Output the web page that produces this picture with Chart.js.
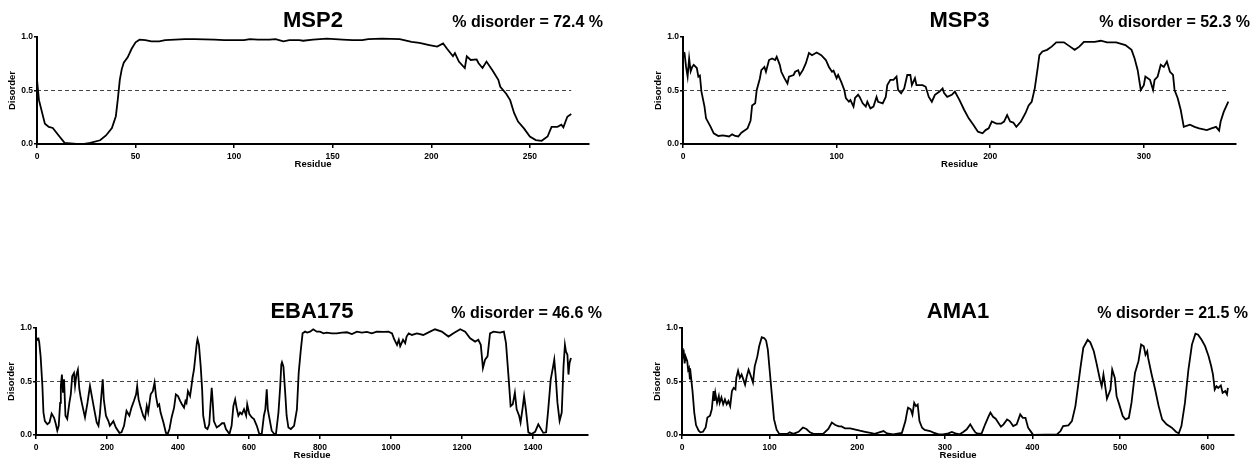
<!DOCTYPE html>
<html>
<head>
<meta charset="utf-8">
<script src="https://cdn.jsdelivr.net/npm/chart.js@4.4.1/dist/chart.umd.min.js"></script>
<style>
  body { margin: 0; background: #fff; width: 1251px; height: 461px; position: relative; overflow: hidden; }
  .panel { position: absolute; }
</style>
</head>
<body>
<div class="panel" style="left:0;top:0;width:625px;height:180px"><canvas id="msp2Chart"></canvas></div>
<div class="panel" style="left:625px;top:0;width:626px;height:180px"><canvas id="msp3Chart"></canvas></div>
<div class="panel" style="left:0;top:279px;width:625px;height:182px"><canvas id="eba175Chart"></canvas></div>
<div class="panel" style="left:625px;top:279px;width:626px;height:182px"><canvas id="ama1Chart"></canvas></div>
<script>
// Panel labels and axis ranges
const proteinNames = ["MSP2", "MSP3", "EBA175", "AMA1"];
const disorderPercent = [72.4, 52.3, 46.6, 21.5];
const xAxisMax = [280, 360, 1555, 630];
const xTickStep = [50, 100, 200, 100];
const yTickStep = 0.5;
const thresholdValue = 0.5;

// MSP2 disorder profile
const msp2Residue = [0, 1, 4, 6, 8, 11, 14, 17, 20, 24, 27, 32, 35, 38, 40, 41, 42, 43, 44, 46, 48, 50, 52, 55, 58, 62, 65, 70, 75, 80, 90, 95, 100, 105, 108, 112, 118, 121, 125, 128, 133, 135, 140, 147, 155, 160, 165, 168, 175, 184, 190, 194, 199, 203, 206, 208, 211, 212, 214, 217, 218, 220, 223, 224, 226, 228, 231, 234, 235, 238, 240, 242, 244, 247, 250, 253, 256, 259, 261, 264, 266, 267, 269, 271];
const msp2Disorder = [0.6, 0.41, 0.19, 0.16, 0.15, 0.08, 0.01, 0.005, 0, 0, 0.01, 0.035, 0.08, 0.15, 0.26, 0.42, 0.6, 0.7, 0.76, 0.81, 0.89, 0.95, 0.975, 0.97, 0.96, 0.96, 0.97, 0.975, 0.98, 0.98, 0.975, 0.97, 0.97, 0.97, 0.98, 0.975, 0.975, 0.98, 0.96, 0.97, 0.97, 0.965, 0.975, 0.985, 0.975, 0.97, 0.97, 0.98, 0.985, 0.98, 0.955, 0.945, 0.925, 0.91, 0.94, 0.89, 0.82, 0.85, 0.77, 0.71, 0.82, 0.785, 0.79, 0.755, 0.71, 0.77, 0.69, 0.6, 0.535, 0.47, 0.41, 0.29, 0.21, 0.146, 0.07, 0.037, 0.03, 0.07, 0.16, 0.16, 0.18, 0.155, 0.255, 0.28];

// MSP3 disorder profile
const msp3Residue = [0, 1, 2, 3, 4, 5, 6, 7, 9, 10, 11, 12, 14, 15, 18, 20, 23, 26, 30, 32, 34, 36, 38, 42, 44, 45, 47, 48, 50, 51, 53, 54, 56, 58, 60, 61, 63, 64, 66, 68, 69, 72, 73, 75, 76, 78, 80, 82, 84, 87, 90, 93, 95, 97, 98, 100, 101, 103, 105, 106, 108, 109, 111, 112, 114, 115, 117, 119, 120, 122, 124, 126, 127, 130, 132, 133, 135, 137, 139, 140, 142, 144, 146, 148, 149, 151, 152, 156, 158, 160, 162, 164, 167, 169, 170, 172, 175, 177, 180, 183, 186, 189, 192, 195, 197, 199, 201, 204, 207, 209, 211, 213, 215, 217, 220, 223, 225, 227, 229, 231, 232, 234, 237, 240, 243, 248, 252, 255, 258, 261, 268, 272, 276, 282, 288, 292, 294, 296, 298, 300, 301, 304, 306, 307, 309, 311, 313, 315, 317, 319, 320, 322, 324, 326, 330, 333, 336, 341, 344, 347, 349, 350, 352, 355];
const msp3Disorder = [0.86, 0.85, 0.72, 0.63, 0.8, 0.68, 0.72, 0.74, 0.71, 0.63, 0.64, 0.49, 0.35, 0.24, 0.16, 0.1, 0.075, 0.08, 0.07, 0.09, 0.075, 0.07, 0.105, 0.146, 0.22, 0.36, 0.38, 0.505, 0.61, 0.69, 0.72, 0.675, 0.785, 0.8, 0.785, 0.815, 0.74, 0.675, 0.615, 0.565, 0.63, 0.645, 0.675, 0.69, 0.645, 0.69, 0.755, 0.85, 0.83, 0.855, 0.83, 0.785, 0.72, 0.675, 0.685, 0.615, 0.645, 0.58, 0.505, 0.43, 0.395, 0.41, 0.35, 0.43, 0.46, 0.44, 0.38, 0.35, 0.395, 0.333, 0.35, 0.44, 0.395, 0.38, 0.44, 0.55, 0.6, 0.6, 0.63, 0.505, 0.475, 0.52, 0.645, 0.645, 0.55, 0.615, 0.55, 0.55, 0.535, 0.44, 0.395, 0.46, 0.49, 0.52, 0.475, 0.44, 0.46, 0.49, 0.41, 0.32, 0.24, 0.18, 0.115, 0.1, 0.13, 0.146, 0.21, 0.19, 0.19, 0.21, 0.27, 0.21, 0.2, 0.16, 0.21, 0.29, 0.36, 0.395, 0.52, 0.72, 0.83, 0.865, 0.88, 0.91, 0.95, 0.95, 0.91, 0.88, 0.91, 0.955, 0.955, 0.965, 0.95, 0.95, 0.925, 0.88, 0.8, 0.69, 0.505, 0.55, 0.63, 0.6, 0.505, 0.6, 0.63, 0.74, 0.72, 0.77, 0.675, 0.645, 0.505, 0.43, 0.32, 0.16, 0.18, 0.16, 0.146, 0.13, 0.146, 0.16, 0.125, 0.21, 0.3, 0.395];

// EBA175 disorder profile
const eba175Residue = [0, 4, 7, 9, 13, 18, 21, 25, 32, 38, 44, 51, 56, 60, 64, 68, 70, 73, 76, 79, 83, 88, 94, 98, 102, 107, 110, 114, 118, 122, 126, 131, 138, 145, 152, 158, 164, 171, 176, 180, 184, 188, 191, 197, 204, 208, 218, 225, 235, 241, 248, 255, 263, 269, 276, 282, 285, 289, 295, 302, 307, 312, 316, 323, 329, 334, 338, 343, 347, 351, 359, 366, 371, 376, 382, 389, 394, 400, 406, 411, 417, 421, 424, 428, 434, 438, 441, 445, 449, 453, 455, 459, 464, 468, 471, 477, 483, 488, 492, 495, 498, 501, 509, 516, 524, 530, 535, 545, 551, 556, 561, 565, 570, 575, 580, 586, 592, 595, 601, 608, 614, 622, 629, 636, 642, 646, 650, 653, 658, 664, 671, 676, 683, 688, 691, 693, 697, 702, 706, 711, 718, 727, 735, 740, 746, 751, 758, 764, 772, 781, 791, 800, 810, 819, 833, 847, 862, 876, 890, 904, 918, 932, 946, 960, 979, 993, 1003, 1009, 1017, 1022, 1026, 1034, 1040, 1044, 1050, 1059, 1073, 1091, 1110, 1124, 1143, 1162, 1176, 1195, 1209, 1223, 1237, 1246, 1253, 1259, 1265, 1272, 1279, 1289, 1307, 1318, 1324, 1331, 1337, 1343, 1349, 1354, 1361, 1365, 1371, 1375, 1380, 1387, 1396, 1406, 1415, 1422, 1429, 1437, 1443, 1450, 1456, 1460, 1464, 1469, 1475, 1481, 1486, 1490, 1493, 1497, 1500, 1503, 1507];
const eba175Disorder = [0.92, 0.89, 0.9, 0.87, 0.735, 0.46, 0.21, 0.13, 0.1, 0.117, 0.2, 0.16, 0.1, 0.04, 0.086, 0.3, 0.46, 0.565, 0.395, 0.52, 0.18, 0.15, 0.3, 0.38, 0.55, 0.58, 0.46, 0.565, 0.61, 0.43, 0.35, 0.27, 0.165, 0.3, 0.46, 0.35, 0.24, 0.117, 0.086, 0.195, 0.364, 0.52, 0.333, 0.18, 0.13, 0.086, 0.13, 0.07, 0.02, 0.025, 0.086, 0.225, 0.18, 0.256, 0.32, 0.38, 0.457, 0.333, 0.256, 0.18, 0.15, 0.27, 0.21, 0.38, 0.41, 0.49, 0.364, 0.27, 0.287, 0.21, 0.117, 0.02, 0.01, 0.056, 0.164, 0.256, 0.38, 0.364, 0.318, 0.287, 0.256, 0.318, 0.3, 0.41, 0.364, 0.457, 0.534, 0.61, 0.735, 0.858, 0.895, 0.842, 0.64, 0.426, 0.18, 0.07, 0.056, 0.1, 0.3, 0.44, 0.3, 0.13, 0.07, 0.086, 0.11, 0.11, 0.056, 0.01, 0.086, 0.27, 0.333, 0.256, 0.18, 0.21, 0.195, 0.24, 0.18, 0.287, 0.195, 0.164, 0.148, 0.086, 0.01, 0.01, 0.18, 0.24, 0.426, 0.24, 0.148, 0.04, 0.01, 0.01, 0.21, 0.457, 0.657, 0.68, 0.64, 0.395, 0.18, 0.07, 0.056, 0.086, 0.24, 0.58, 0.796, 0.95, 0.966, 0.957, 0.966, 0.988, 0.966, 0.966, 0.95, 0.957, 0.95, 0.95, 0.957, 0.96, 0.944, 0.966, 0.957, 0.963, 0.95, 0.966, 0.963, 0.966, 0.95, 0.895, 0.842, 0.89, 0.83, 0.89, 0.858, 0.92, 0.95, 0.935, 0.95, 0.935, 0.966, 0.988, 0.966, 0.92, 0.95, 0.988, 0.966, 0.904, 0.873, 0.89, 0.843, 0.626, 0.704, 0.735, 0.95, 0.966, 0.957, 0.966, 0.858, 0.55, 0.27, 0.287, 0.395, 0.24, 0.18, 0.117, 0.256, 0.364, 0.24, 0.025, 0.01, 0.03, 0.1, 0.06, 0.02, 0.025, 0.24, 0.52, 0.626, 0.704, 0.55, 0.3, 0.133, 0.21, 0.64, 0.843, 0.78, 0.75, 0.565, 0.673, 0.72];

// AMA1 disorder profile
const ama1Residue = [0, 1, 2, 3, 4, 6, 7, 8, 9, 10, 12, 14, 16, 19, 21, 24, 27, 29, 32, 34, 36, 37, 38, 40, 42, 43, 45, 47, 49, 51, 53, 55, 57, 59, 61, 62, 64, 66, 68, 70, 72, 74, 76, 78, 81, 83, 86, 88, 91, 94, 96, 98, 100, 103, 105, 108, 111, 120, 123, 127, 133, 138, 142, 146, 150, 161, 167, 171, 175, 179, 182, 186, 192, 198, 203, 209, 215, 220, 225, 230, 234, 241, 251, 255, 257, 258, 261, 263, 265, 267, 269, 271, 274, 277, 283, 287, 293, 298, 304, 308, 312, 317, 321, 325, 329, 332, 335, 338, 342, 346, 350, 352, 355, 358, 361, 364, 367, 371, 374, 378, 382, 386, 389, 392, 395, 399, 401, 428, 432, 435, 441, 445, 449, 452, 455, 458, 463, 466, 470, 473, 477, 479, 481, 483, 485, 489, 491, 494, 496, 499, 503, 506, 510, 513, 517, 521, 524, 527, 529, 531, 532, 536, 540, 544, 548, 553, 559, 564, 567, 570, 574, 578, 582, 586, 589, 593, 597, 601, 604, 606, 608, 610, 612, 615, 617, 620, 622, 623];
const ama1Disorder = [0.81, 0.77, 0.78, 0.67, 0.735, 0.69, 0.61, 0.627, 0.52, 0.565, 0.41, 0.21, 0.093, 0.04, 0.025, 0.03, 0.07, 0.164, 0.18, 0.24, 0.41, 0.318, 0.395, 0.3, 0.364, 0.3, 0.35, 0.287, 0.333, 0.287, 0.318, 0.27, 0.41, 0.44, 0.426, 0.534, 0.6, 0.534, 0.565, 0.52, 0.47, 0.55, 0.61, 0.565, 0.49, 0.642, 0.735, 0.827, 0.914, 0.904, 0.883, 0.796, 0.61, 0.333, 0.148, 0.05, 0.01, 0.01, 0.025, 0.01, 0.03, 0.07, 0.056, 0.025, 0.01, 0.01, 0.056, 0.117, 0.093, 0.08, 0.08, 0.062, 0.062, 0.05, 0.04, 0.03, 0.02, 0.01, 0.025, 0.037, 0.015, 0.006, 0.02, 0.13, 0.22, 0.255, 0.24, 0.19, 0.3, 0.27, 0.285, 0.13, 0.068, 0.047, 0.037, 0.022, 0.006, 0.006, 0.015, 0.028, 0.015, 0.006, 0.028, 0.053, 0.1, 0.059, 0.022, 0.012, 0.015, 0.1, 0.177, 0.21, 0.17, 0.152, 0.115, 0.078, 0.1, 0.146, 0.13, 0.084, 0.1, 0.193, 0.16, 0.16, 0.068, 0.022, 0, 0.006, 0.037, 0.084, 0.09, 0.13, 0.27, 0.456, 0.643, 0.814, 0.89, 0.866, 0.783, 0.674, 0.519, 0.456, 0.565, 0.456, 0.339, 0.425, 0.612, 0.534, 0.363, 0.286, 0.177, 0.146, 0.161, 0.3, 0.58, 0.69, 0.845, 0.83, 0.75, 0.783, 0.72, 0.565, 0.425, 0.27, 0.146, 0.1, 0.068, 0.028, 0.016, 0.084, 0.3, 0.612, 0.845, 0.947, 0.938, 0.89, 0.83, 0.736, 0.643, 0.565, 0.425, 0.456, 0.44, 0.463, 0.394, 0.41, 0.379, 0.44];

const fontFamily = "'Liberation Sans', Arial, Helvetica, sans-serif";
const tickFont = { family: fontFamily, size: 8.5, weight: "bold" };
const axisTitleFont = { family: fontFamily, size: 9.5, weight: "bold" };

// Padding that places each plot area where the original has it
const panelPadding = [
  { left: 7, right: 36, top: 37, bottom: 10 },
  { left: 28, right: 15, top: 37, bottom: 10 },
  { left: 6, right: 37, top: 49, bottom: 0 },
  { left: 27, right: 17, top: 49, bottom: 0 },
];

// Draws the protein name and the disorder percentage above the plot
const panelTextPlugin = {
  id: "panelText",
  afterDraw: (chart, args, opts) => {
    const { ctx, chartArea } = chart;
    const baseline = chartArea.top - 10;
    ctx.save();
    ctx.fillStyle = "#000";
    ctx.textBaseline = "alphabetic";
    ctx.font = `bold 22px ${fontFamily}`;
    ctx.textAlign = "center";
    ctx.fillText(opts.name, (chartArea.left + chartArea.right) / 2, baseline);
    ctx.font = `bold 16px ${fontFamily}`;
    ctx.textAlign = "right";
    ctx.fillText(`% disorder = ${opts.pct.toFixed(1)} %`, chartArea.right + 14, baseline);
    ctx.restore();
  },
};

const toPoints = (xs, ys) => xs.map((x, i) => ({ x, y: ys[i] }));

// Function to build one disorder panel
const drawPanel = (canvasId, index, residues, disorder) => {
  const step = xTickStep[index];
  const lastResidue = residues[residues.length - 1];
  const ctx = document.getElementById(canvasId).getContext("2d");
  new Chart(ctx, {
    type: "line",
    data: {
      datasets: [
        {
          data: toPoints(residues, disorder),
          borderColor: "#000",
          borderWidth: 1.8,
          pointRadius: 0,
          tension: 0,
          clip: 4,
        },
        {
          data: [
            { x: 0, y: thresholdValue },
            { x: lastResidue, y: thresholdValue },
          ],
          borderColor: "#444",
          borderWidth: 1,
          borderDash: [4, 3],
          pointRadius: 0,
        },
      ],
    },
    options: {
      responsive: true,
      maintainAspectRatio: false,
      animation: false,
      events: [],
      layout: { padding: panelPadding[index] },
      plugins: {
        legend: { display: false },
        tooltip: { enabled: false },
        panelText: { name: proteinNames[index], pct: disorderPercent[index] },
      },
      scales: {
        x: {
          type: "linear",
          min: 0,
          max: xAxisMax[index],
          afterBuildTicks: (s) => {
            s.ticks = s.ticks.filter((t) => t.value % step === 0);
          },
          afterFit: (s) => {
            s.height = 26;
            s.paddingLeft = 0;
            s.paddingRight = 0;
          },
          ticks: {
            stepSize: step,
            font: tickFont,
            color: "#000",
            padding: 4,
            maxRotation: 0,
            autoSkip: false,
            callback: (v) => String(v),
          },
          grid: { drawOnChartArea: false, tickLength: 4, color: "#000", lineWidth: 1.5 },
          border: { color: "#000", width: 2 },
          title: { display: true, text: "Residue", font: axisTitleFont, color: "#000", padding: 0 },
        },
        y: {
          min: 0,
          max: 1,
          afterFit: (s) => {
            s.width = 30;
            s.paddingTop = 0;
            s.paddingBottom = 0;
          },
          ticks: { stepSize: yTickStep, font: tickFont, color: "#000", padding: 1, callback: (v) => v.toFixed(1) },
          grid: { drawOnChartArea: false, tickLength: 3, color: "#000", lineWidth: 1.5 },
          border: { color: "#000", width: 2 },
          title: { display: true, text: "Disorder", font: axisTitleFont, color: "#000", padding: 0 },
        },
      },
    },
    plugins: [panelTextPlugin],
  });
};

drawPanel("msp2Chart", 0, msp2Residue, msp2Disorder);
drawPanel("msp3Chart", 1, msp3Residue, msp3Disorder);
drawPanel("eba175Chart", 2, eba175Residue, eba175Disorder);
drawPanel("ama1Chart", 3, ama1Residue, ama1Disorder);
</script>
</body>
</html>
